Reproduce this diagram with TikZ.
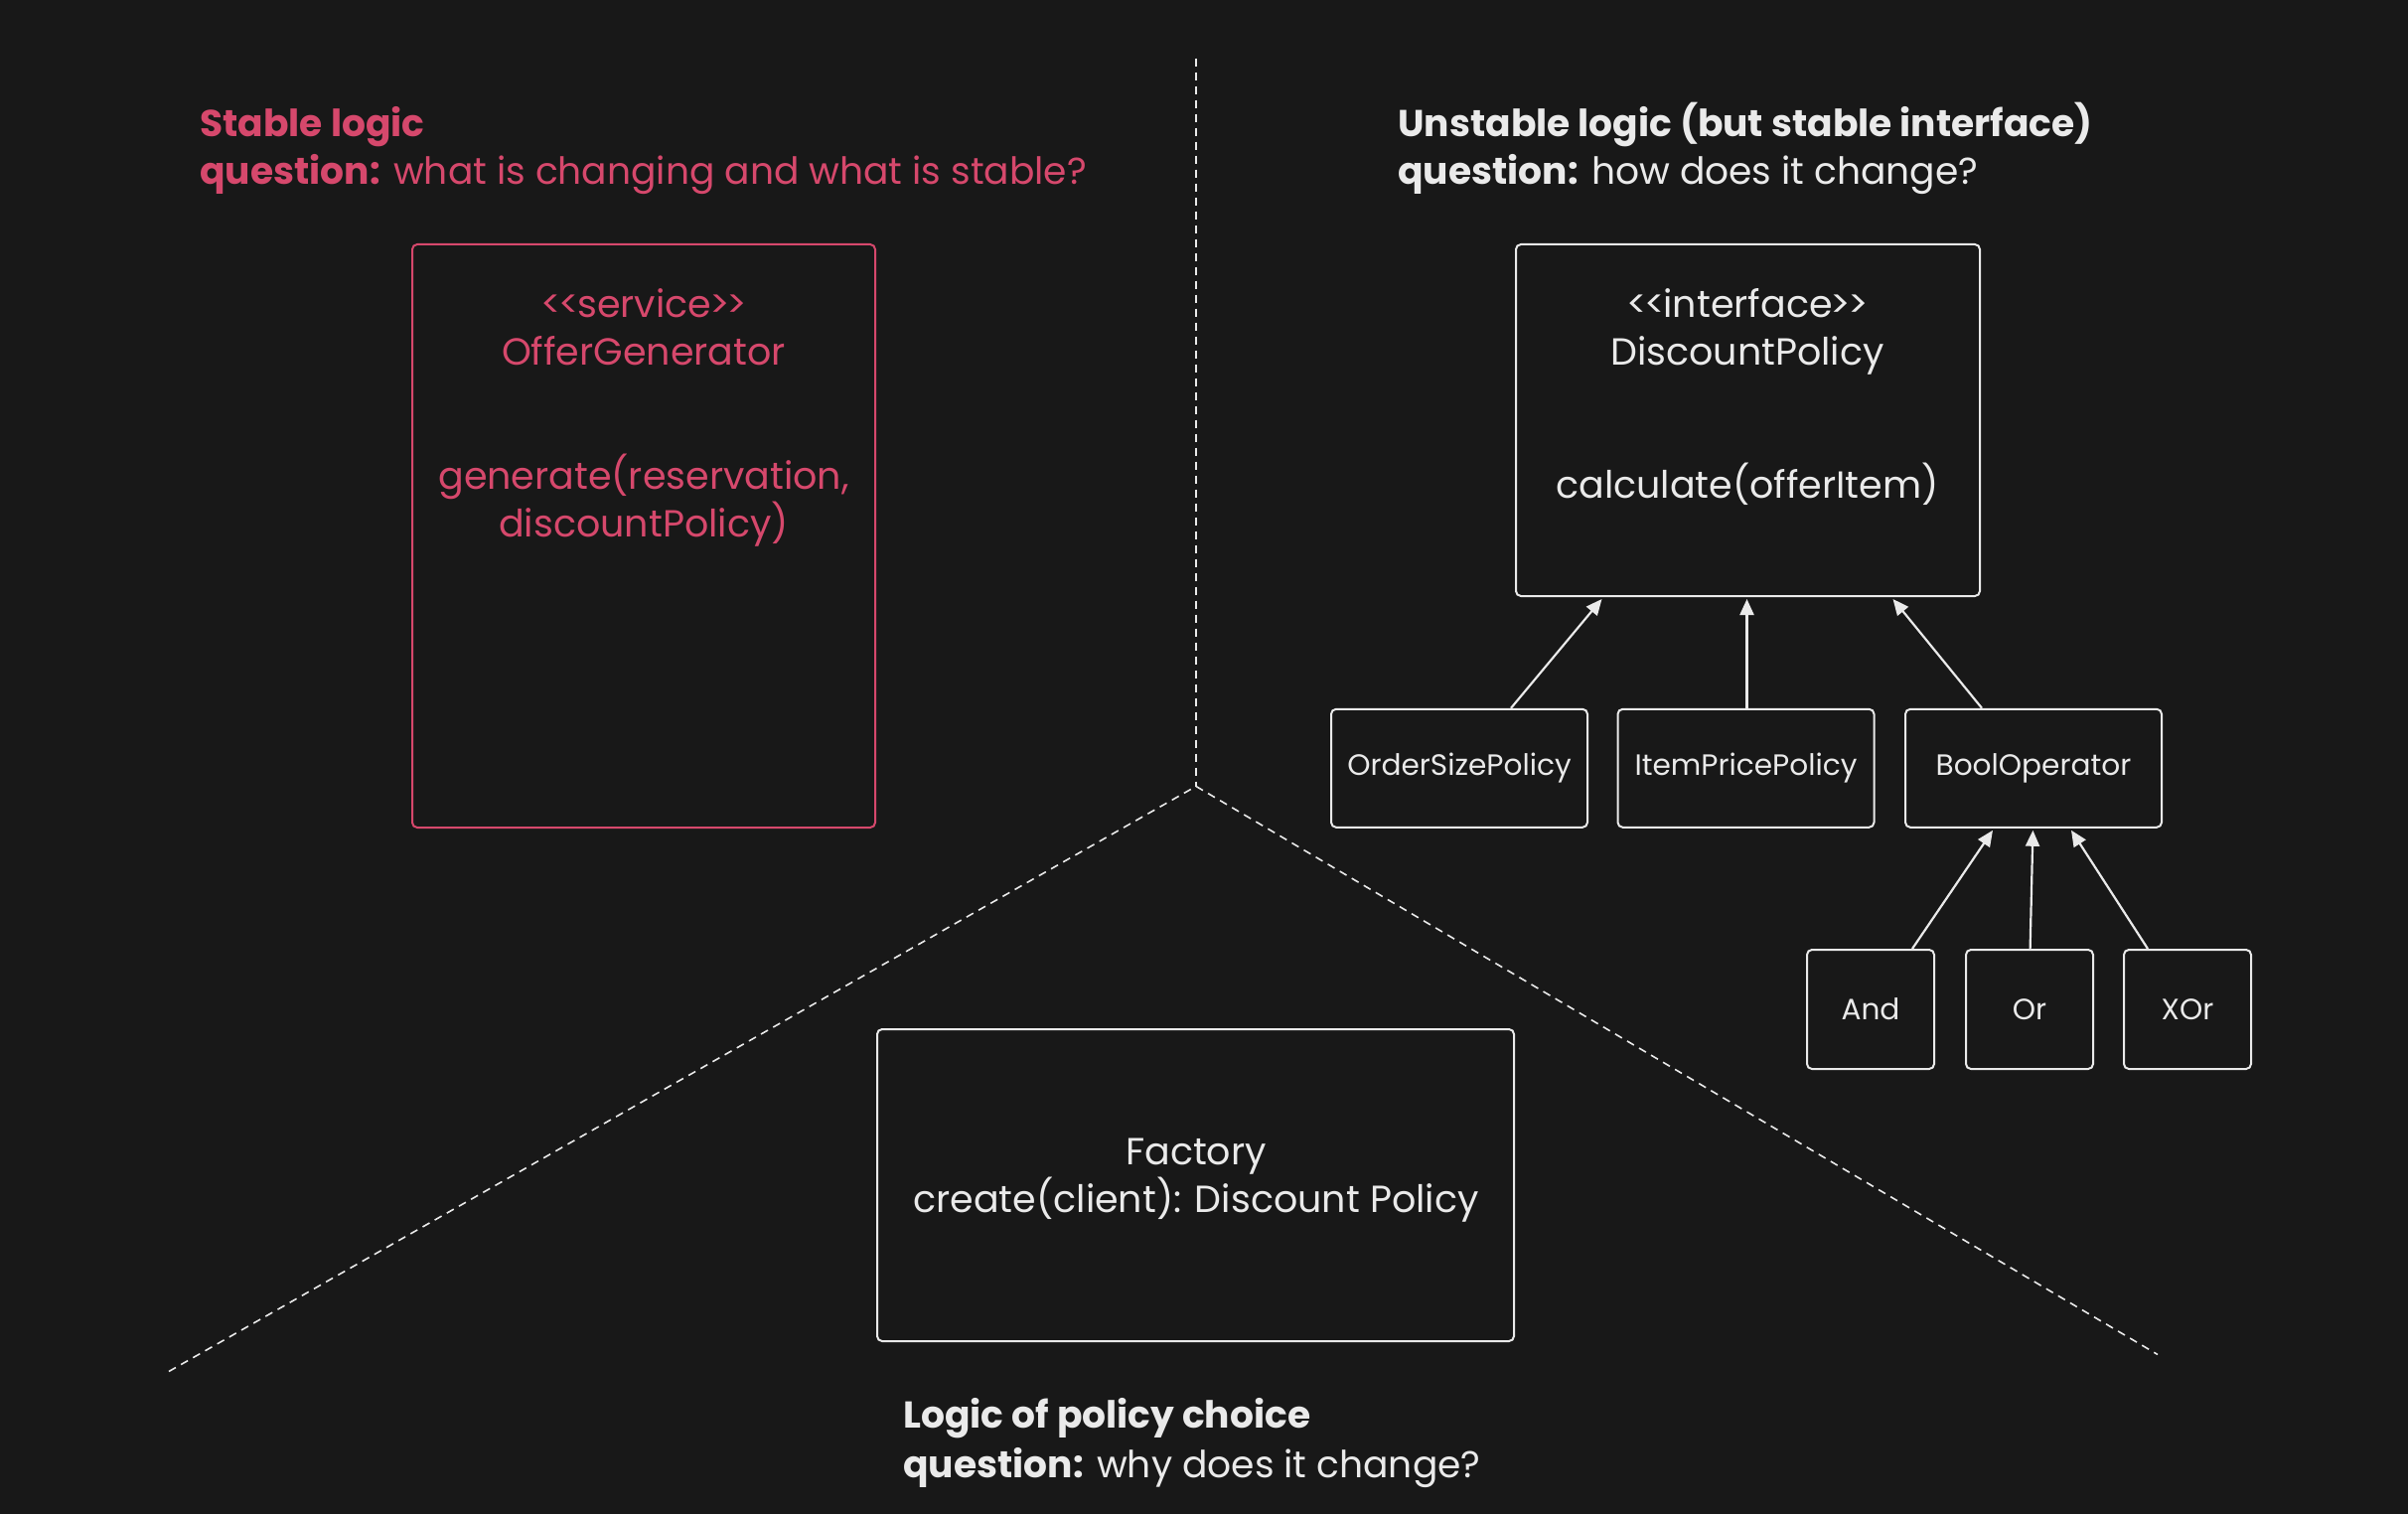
\documentclass[tikz,border=0pt]{standalone}
\usepackage{fontspec}
\setmainfont{Poppins}[Ligatures=NoCommon,RawFeature=-calt]
\usetikzlibrary{arrows.meta,calc}
\definecolor{bg}{RGB}{24,24,24}
\definecolor{fg}{RGB}{234,234,234}
\definecolor{pinkc}{RGB}{214,72,108}
\newcommand{\ltlt}{\char"3C\kern-1.5pt\char"3C\kern-1pt}
\newcommand{\gtgt}{\kern-1pt\char"3E\kern-1.5pt\char"3E}
\tikzset{
  umlbox/.style={draw=fg, rounded corners=2.5pt, line width=1pt, inner sep=0pt},
  pinkbox/.style={umlbox, draw=pinkc},
  bigtxt/.style={text=fg, font=\fontsize{19}{23}\selectfont, inner sep=0pt, anchor=mid},
  pinktxt/.style={bigtxt, text=pinkc},
  headtxt/.style={text=fg, font=\fontsize{18.8}{23}\selectfont, inner sep=0pt, anchor=mid west},
  smalltxt/.style={text=fg, font=\fontsize{14.8}{17}\selectfont},
  arr/.style={draw=fg, line width=1.1pt, -{Triangle[length=8pt,width=7pt]}},
  divider/.style={draw=fg, line width=0.8pt, dash pattern=on 4pt off 3pt}
}
\begin{document}
\begin{tikzpicture}[x=0.5pt,y=-0.5pt]
\fill[bg] (0,0) rectangle (2424,1524);
\useasboundingbox (0,0) rectangle (2424,1524);

% dividers
\coordinate (apex) at (1204,791.5);
\coordinate (topend) at (1204,58.7);
\coordinate (leftend) at (170,1380.5);
\coordinate (rightend) at (2172,1363.5);
\draw[divider] (topend) -- (apex);
\draw[divider] (leftend) -- (apex) -- (rightend);

% headings
\node[headtxt, text=pinkc] (h1) at (201,132) {\bfseries Stable logic};
\node[headtxt, text=pinkc] (q1) at (201,180) {\textbf{question:} what is changing and what is stable?};
\node[headtxt] (h2) at (1407,132) {\bfseries Unstable logic (but stable interface)};
\node[headtxt] (q2) at (1407,180) {\textbf{question:} how does it change?};
\node[headtxt] (h3) at (909,1432) {\bfseries Logic of policy choice};
\node[headtxt] (q3) at (909,1482) {\textbf{question:} why does it change?};

% OfferGenerator
\node[pinkbox, minimum width=233pt, minimum height=293.5pt] (offer) at (648,539.5) {};
\node[pinktxt] (o1) at (648,314) {\ltlt service\gtgt};
\node[pinktxt] (o2) at (648,362) {OfferGenerator};
\node[pinktxt] (o3) at (648,487) {generate(reservation,};
\node[pinktxt] (o4) at (648,535) {discountPolicy)};

% DiscountPolicy
\node[umlbox, minimum width=233.5pt, minimum height=177pt] (dp) at (1759.5,423) {};
\node[bigtxt] (d1) at (1759,314) {\ltlt interface\gtgt};
\node[bigtxt] (d2) at (1759,362) {DiscountPolicy};
\node[bigtxt] (d3) at (1759,496) {calculate(offerItem)};

% implementations
\node[umlbox, smalltxt, minimum width=129pt, minimum height=59.5pt] (osp) at (1469,773.3) {OrderSizePolicy};
\node[umlbox, smalltxt, minimum width=129pt, minimum height=59.5pt] (ipp) at (1757.5,773.3) {ItemPricePolicy};
\node[umlbox, smalltxt, minimum width=129pt, minimum height=59.5pt] (bool) at (2047,773.3) {BoolOperator};

\node[umlbox, smalltxt, minimum width=64pt, minimum height=60pt] (and) at (1883,1016) {And};
\node[umlbox, smalltxt, minimum width=64pt, minimum height=60pt] (or) at (2043,1016) {Or};
\node[umlbox, smalltxt, minimum width=64pt, minimum height=60pt] (xor) at (2202,1016) {XOr};

% Factory
\node[umlbox, minimum width=320.5pt, minimum height=157pt] (factory) at (1203.5,1193) {};
\node[bigtxt] (f1) at (1204,1167) {Factory};
\node[bigtxt] (f2) at (1204,1215) {create(client): Discount Policy};

% arrows
\draw[arr] ([xshift=26pt]osp.north) -- ([xshift=-73.5pt,yshift=-1pt]dp.south);
\draw[arr] ([xshift=0.5pt]ipp.north) -- ([xshift=-0.5pt,yshift=-1pt]dp.south);
\draw[arr] ([xshift=-26pt]bool.north) -- ([xshift=73pt,yshift=-1pt]dp.south);
\draw[arr] ([xshift=21pt]and.north) -- ([xshift=-20.5pt,yshift=-1pt]bool.south);
\draw[arr] ([xshift=0.3pt]or.north) -- ([xshift=-0.3pt,yshift=-1pt]bool.south);
\draw[arr] ([xshift=-20pt]xor.north) -- ([xshift=19pt,yshift=-1pt]bool.south);
\end{tikzpicture}
\end{document}
